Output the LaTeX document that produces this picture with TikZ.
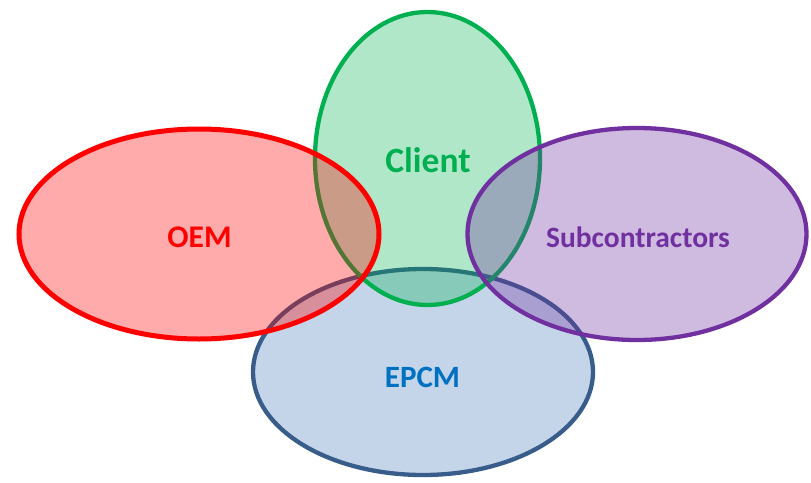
\documentclass[tikz,border=0pt]{standalone}
\usepackage{fontspec}
\setmainfont{Carlito}
\usetikzlibrary{shapes.geometric}
\definecolor{oemred}{RGB}{255,0,0}
\definecolor{clientgreen}{RGB}{0,176,80}
\definecolor{subpurple}{RGB}{112,48,160}
\definecolor{epcmfill}{RGB}{79,129,189}
\definecolor{epcmline}{RGB}{56,93,138}
\definecolor{epcmtext}{RGB}{0,112,192}
\begin{document}
\begin{tikzpicture}[x=1pt,y=-1pt,
  blob/.style={ellipse, inner sep=0pt, outer sep=0pt, fill opacity=0.33, text opacity=1},
  lbl/.style={font=\bfseries, inner sep=0pt}]
\useasboundingbox (0,0) rectangle (811,482);
\node[blob, draw=epcmline, line width=4.3pt, fill=epcmfill, minimum width=340pt, minimum height=206pt] (epcm) at (423,372) {};
\node[blob, draw=clientgreen, line width=4.3pt, fill=clientgreen, fill opacity=0.31, minimum width=225pt, minimum height=293pt] (client) at (427.5,158.5) {};
\node[blob, draw=oemred, line width=5pt, fill=oemred, minimum width=360pt, minimum height=210pt] (oem) at (199,234) {};
\node[blob, draw=subpurple, line width=4.3pt, fill=subpurple, minimum width=339pt, minimum height=212pt] (sub) at (637,234) {};
\node[lbl, text=oemred, font=\fontsize{31.5}{34}\selectfont\bfseries] (toem) at (199.5,237) {OEM};
\node[lbl, text=clientgreen, font=\fontsize{35.5}{38}\selectfont\bfseries] (tclient) at (428,160) {Client};
\node[lbl, text=subpurple, font=\fontsize{29.5}{32}\selectfont\bfseries] (tsub) at (638,237) {Subcontractors};
\node[lbl, text=epcmtext, font=\fontsize{31}{34}\selectfont\bfseries] (tepcm) at (422.5,377) {EPCM};
\end{tikzpicture}
\end{document}
